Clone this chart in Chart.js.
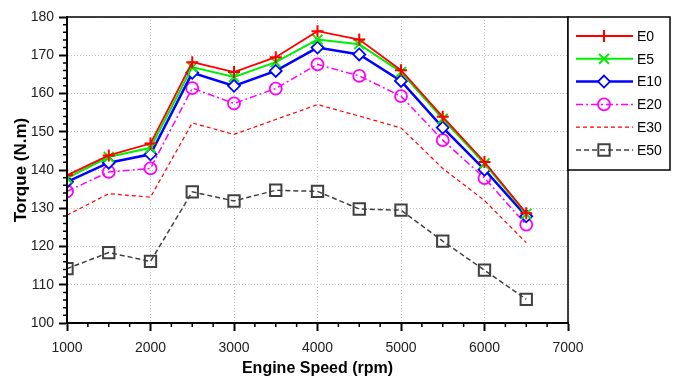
<!DOCTYPE html>
<html lang="en">
  <head>
    <title>Torque vs Engine Speed</title>
    <script src="https://cdn.jsdelivr.net/npm/chart.js"></script>
    <style>
      html, body { margin: 0; padding: 0; background: #fff; }
      #wrap { width: 678px; height: 376px; }
    </style>
  </head>
  <body>
    <div id="wrap"><canvas id="torqueChart" width="678" height="376"></canvas></div>

    <script>
      // engine speed (rpm)
      const speeds = [1000, 1500, 2000, 2500, 3000, 3500, 4000, 4500, 5000, 5500, 6000, 6500];

      // torque (N.m) per blend
      const e0  = [138.6, 143.8, 146.9, 168.2, 165.6, 169.5, 176.3, 174.1, 166.1, 153.9, 142.1, 128.7];
      const e5  = [137.9, 143.4, 145.8, 166.9, 164.3, 168.2, 174.1, 172.9, 165.6, 153.4, 141.7, 128.5];
      const e10 = [136.9, 141.9, 144.1, 165.4, 162.0, 165.9, 172.0, 170.2, 163.3, 151.1, 140.1, 127.9];
      const e20 = [134.4, 139.5, 140.4, 161.4, 157.4, 161.3, 167.6, 164.6, 159.3, 147.8, 137.9, 125.7];
      const e30 = [128.2, 133.8, 132.9, 152.3, 149.3, 153.2, 157.1, 154.1, 151.0, 140.4, 132.0, 121.0];
      const e50 = [114.2, 118.4, 116.1, 134.3, 131.9, 134.7, 134.4, 129.8, 129.5, 121.4, 113.8, 106.2];

      const seriesNames = ["E0", "E5", "E10", "E20", "E30", "E50"];

      const xTicks = [1000, 2000, 3000, 4000, 5000, 6000, 7000];
      const yTicks = [100, 110, 120, 130, 140, 150, 160, 170, 180];

      const FONT = "'Liberation Sans', Arial, sans-serif";

      function pts(vals) {
        return speeds.map((s, i) => ({ x: s, y: vals[i] }));
      }

      const datasets = [
        { label: seriesNames[0], data: pts(e0), borderColor: "#ff0000", borderWidth: 1.8,
          pointStyle: "cross", pointRadius: 6, pointBorderWidth: 2, pointBorderColor: "#ff0000", borderDash: [] },
        { label: seriesNames[1], data: pts(e5), borderColor: "#00ee00", borderWidth: 2,
          pointStyle: "crossRot", pointRadius: 7, pointBorderWidth: 2, pointBorderColor: "#00ee00", borderDash: [] },
        { label: seriesNames[2], data: pts(e10), borderColor: "#0000ff", borderWidth: 2.5,
          pointStyle: "rectRot", pointRadius: 6, pointBorderWidth: 1.8, pointBorderColor: "#0000ff",
          pointBackgroundColor: "#ffffff", borderDash: [] },
        { label: seriesNames[3], data: pts(e20), borderColor: "#ff00ff", borderWidth: 1.5,
          pointStyle: "circle", pointRadius: 6, pointBorderWidth: 1.8, pointBorderColor: "#ff00ff",
          pointBackgroundColor: "rgba(255,255,255,0)", borderDash: [7, 3, 2, 3] },
        { label: seriesNames[4], data: pts(e30), borderColor: "#ff0000", borderWidth: 1.2,
          pointStyle: false, pointRadius: 0, borderDash: [4, 3] },
        { label: seriesNames[5], data: pts(e50), borderColor: "#404040", borderWidth: 1.5,
          pointStyle: "rect", pointRadius: 8, pointBorderWidth: 2, pointBorderColor: "#404040",
          pointBackgroundColor: "rgba(255,255,255,0)", borderDash: [5, 3] },
      ];
      datasets.forEach((d) => { d.fill = false; d.tension = 0; d.pointHoverRadius = d.pointRadius; });

      // draw a marker like the chart does, for the legend
      function marker(ctx, ds, x, y) {
        if (!ds.pointStyle) return;
        const r = ds.pointRadius;
        ctx.save();
        ctx.setLineDash([]);
        ctx.strokeStyle = ds.pointBorderColor;
        ctx.lineWidth = ds.pointBorderWidth;
        ctx.fillStyle = ds.pointBackgroundColor || "rgba(0,0,0,0)";
        ctx.beginPath();
        if (ds.pointStyle === "cross") {
          ctx.moveTo(x - r, y); ctx.lineTo(x + r, y);
          ctx.moveTo(x, y - r); ctx.lineTo(x, y + r);
        } else if (ds.pointStyle === "crossRot") {
          const o = r * Math.SQRT1_2;
          ctx.moveTo(x - o, y - o); ctx.lineTo(x + o, y + o);
          ctx.moveTo(x - o, y + o); ctx.lineTo(x + o, y - o);
        } else if (ds.pointStyle === "rectRot") {
          ctx.moveTo(x, y - r); ctx.lineTo(x + r, y); ctx.lineTo(x, y + r); ctx.lineTo(x - r, y);
          ctx.closePath(); ctx.fill();
        } else if (ds.pointStyle === "circle") {
          ctx.arc(x, y, r, 0, Math.PI * 2); ctx.fill();
        } else if (ds.pointStyle === "rect") {
          const s = r * Math.SQRT1_2;
          ctx.rect(x - s, y - s, 2 * s, 2 * s); ctx.fill();
        }
        ctx.stroke();
        ctx.restore();
      }

      const framePlugin = {
        id: "frame",
        afterDraw(chart) {
          const ctx = chart.ctx;
          const a = chart.chartArea;
          const xs = chart.scales.x;
          const ys = chart.scales.y;
          ctx.save();
          // box round the plot
          ctx.strokeStyle = "#000";
          ctx.lineWidth = 1.5;
          ctx.strokeRect(a.left, a.top, a.right - a.left, a.bottom - a.top);
          ctx.lineWidth = 2;
          ctx.beginPath();
          ctx.moveTo(a.left, a.top); ctx.lineTo(a.left, a.bottom); ctx.lineTo(a.right, a.bottom);
          ctx.stroke();
          // minor ticks
          ctx.lineWidth = 1.5;
          ctx.beginPath();
          for (let v = 1250; v < 7000; v += 250) {
            if (v % 1000 === 0) continue;
            const px = xs.getPixelForValue(v);
            ctx.moveTo(px, a.bottom); ctx.lineTo(px, a.bottom + 4);
          }
          for (let v = 102; v < 180; v += 2) {
            if (v % 10 === 0) continue;
            const py = ys.getPixelForValue(v);
            ctx.moveTo(a.left, py); ctx.lineTo(a.left - 4, py);
          }
          ctx.stroke();

          // legend
          const lx = 568, ly = 17, lw = 102, lh = 153;
          ctx.fillStyle = "#fff";
          ctx.fillRect(lx, ly, lw, lh);
          ctx.lineWidth = 1.5;
          ctx.strokeStyle = "#000";
          ctx.strokeRect(lx, ly, lw, lh);
          chart.data.datasets.forEach((ds, i) => {
            const y = 36 + i * 22.8;
            ctx.save();
            ctx.strokeStyle = ds.borderColor;
            ctx.lineWidth = ds.borderWidth;
            ctx.setLineDash(ds.borderDash || []);
            ctx.beginPath();
            ctx.moveTo(576, y); ctx.lineTo(633, y);
            ctx.stroke();
            ctx.restore();
            marker(ctx, ds, 604, y);
            ctx.fillStyle = "#000";
            ctx.font = "14px " + FONT;
            ctx.textAlign = "left";
            ctx.textBaseline = "middle";
            ctx.fillText(ds.label, 637, y + 1);
          });
          ctx.restore();
        },
      };

      const ctx = document.getElementById("torqueChart").getContext("2d");
      const chart = new Chart(ctx, {
        type: "line",
        data: { datasets: datasets },
        options: {
          responsive: false,
          animation: false,
          events: [],
          layout: { padding: { top: 17, right: 110, left: 0, bottom: 0 } },
          plugins: { legend: { display: false }, tooltip: { enabled: false } },
          scales: {
            x: {
              type: "linear",
              min: xTicks[0],
              max: xTicks[xTicks.length - 1],
              afterBuildTicks: (s) => { s.ticks = xTicks.map((v) => ({ value: v })); },
              afterFit: (s) => { s.height = 53; },
              grid: { color: "#c4c4c4", lineWidth: 1, tickLength: 8, tickColor: "#000", tickWidth: 2 },
              border: { display: true, color: "#000", width: 2, dash: [1, 2] },
              ticks: {
                color: "#222", font: { family: FONT, size: 14 }, padding: 9, maxRotation: 0,
                callback: (v) => String(v),
              },
              title: {
                display: true, text: "Engine Speed (rpm)", color: "#000",
                font: { family: FONT, size: 16, weight: "bold" }, padding: { top: 0, bottom: -2 },
              },
            },
            y: {
              type: "linear",
              min: yTicks[0],
              max: yTicks[yTicks.length - 1],
              afterBuildTicks: (s) => { s.ticks = yTicks.map((v) => ({ value: v })); },
              afterFit: (s) => { s.width = 67; },
              grid: { color: "#c4c4c4", lineWidth: 1, tickLength: 8, tickColor: "#000", tickWidth: 2 },
              border: { display: true, color: "#000", width: 2, dash: [1, 2] },
              ticks: { color: "#222", font: { family: FONT, size: 14 }, padding: 5, callback: (v) => String(v) },
              title: {
                display: true, text: "Torque (N.m)", color: "#000",
                font: { family: FONT, size: 17, weight: "bold" }, padding: { top: 11, bottom: 0 },
              },
            },
          },
        },
        plugins: [framePlugin],
      });
    </script>
  </body>
</html>
